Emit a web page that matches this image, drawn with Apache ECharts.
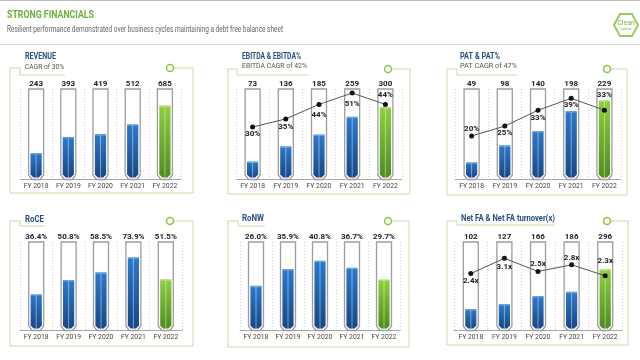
<!DOCTYPE html>
<html>
<head>
<meta charset="utf-8">
<script src="https://cdn.jsdelivr.net/npm/echarts@6/dist/echarts.min.js"></script>
<style>
html,body{margin:0;padding:0;background:#fff;}
#chart{width:640px;height:360px;}
</style>
</head>
<body>
<div id="chart"></div>
<script>
// ---------- DATA ----------
const categories = ['FY 2018', 'FY 2019', 'FY 2020', 'FY 2021', 'FY 2022'];
const revenue = [243, 393, 419, 512, 685];
const ebitda = [73, 136, 185, 259, 300];
const ebitdaMargin = [30, 35, 44, 51, 44];
const pat = [49, 98, 140, 198, 229];
const patMargin = [20, 25, 33, 39, 33];
const roce = [36.4, 50.8, 58.5, 73.9, 51.5];
const ronw = [26.0, 35.9, 40.8, 36.7, 29.7];
const netFA = [102, 127, 166, 186, 296];
const netFATurnover = [2.4, 3.1, 2.5, 2.8, 2.3];

// ---------- LAYOUT ----------
const FONT = 'Roboto';
const intFmt = v => String(v);
const pct1Fmt = v => v.toFixed(1) + '%';
const pctFmt = v => v + '%';
const xFmt = v => v.toFixed(1) + 'x';

const panels = [
  { grid: { left: 20, top: 89, width: 161, height: 90 }, values: revenue, max: 840, fmt: intFmt },
  { grid: { left: 236, top: 89, width: 166, height: 90 }, values: ebitda, max: 375, fmt: intFmt,
    line: ebitdaMargin, lMin: -2.1, lMax: 53.5, lFmt: pctFmt,
    pos: ['bottom', 'bottom', 'bottom', 'bottom', 'top'], dist: [0.5, 1.5, 4.5, 4.5, 2.5] },
  { grid: { left: 455, top: 89, width: 166, height: 90 }, values: pat, max: 262, fmt: intFmt,
    line: patMargin, lMin: -1.7, lMax: 43.7, lFmt: pctFmt,
    pos: ['top', 'bottom', 'bottom', 'bottom', 'top'], dist: [0, 0, 1.5, 0.5, 9] },
  { grid: { left: 20, top: 242, width: 162, height: 88 }, values: roce, max: 89.3, fmt: pct1Fmt },
  { grid: { left: 240, top: 242, width: 160, height: 88 }, values: ronw, max: 51.8, fmt: pct1Fmt },
  { grid: { left: 454, top: 242, width: 168, height: 88 }, values: netFA, max: 429, fmt: intFmt,
    line: netFATurnover, lMin: -0.17, lMax: 3.84, lFmt: xFmt,
    pos: ['bottom', 'bottom', 'top', 'top', 'top'], dist: [0.5, 2.5, 1, 0.5, 8.5] }
];

function makeRender(maxVal, fmt) {
  return function (params, api) {
    const i = api.value(0), v = api.value(1);
    const t = api.coord([i, maxVal]);
    const b = api.coord([i, 0]);
    const p = api.coord([i, v]);
    const cx = t[0], top = t[1], base = b[1], vy = p[1];
    const h = 7.5, hi = 5.6;
    const isLast = i === categories.length - 1;
    const grad = isLast
      ? new echarts.graphic.LinearGradient(0, 0, 0, 1, [{ offset: 0, color: '#8fcf3e' }, { offset: 1, color: '#4e8d1f' }])
      : new echarts.graphic.LinearGradient(0, 0, 0, 1, [{ offset: 0, color: '#2c7acc' }, { offset: 1, color: '#184786' }]);
    return {
      type: 'group',
      children: [
        { type: 'polygon', shape: { points: [[cx - h, top], [cx + h, top], [cx + h, base - 4], [cx + h - 3.5, base + 0.5], [cx - h + 3.5, base + 0.5], [cx - h, base - 4]] },
          style: { fill: '#fff', stroke: '#9d9d9d', lineWidth: 1.3 } },
        { type: 'polygon', shape: { points: [[cx - hi, vy], [cx + hi, vy], [cx + hi, base - 4.5], [cx + hi - 3, base - 1.5], [cx - hi + 3, base - 1.5], [cx - hi, base - 4.5]] },
          style: { fill: grad } },
        { type: 'rect', shape: { x: cx - hi, y: vy, width: hi * 2, height: 1.5 }, style: { fill: 'rgba(255,255,255,0.3)' } },
        { type: 'line', shape: { x1: cx, y1: vy + 1, x2: cx, y2: base - 2 }, style: { stroke: 'rgba(255,255,255,0.55)', lineWidth: 0.8 } },
        { type: 'text', x: cx, y: top - 1.5, style: { text: fmt(v), font: 'bold 8px ' + FONT, fill: '#222', align: 'center', verticalAlign: 'bottom' } }
      ]
    };
  };
}

const grid = [], xAxis = [], yAxis = [], series = [];
panels.forEach((pn, k) => {
  grid.push(pn.grid);
  xAxis.push({
    type: 'category', gridIndex: k, data: categories,
    axisLine: { lineStyle: { color: '#a8a8a8', width: 1 } },
    axisTick: { show: false },
    axisLabel: { interval: 0, hideOverlap: false, fontSize: 6.8, color: '#444', margin: 4, fontFamily: FONT },
    splitLine: { show: true, interval: 0, lineStyle: { color: '#cfcfcf', type: [1, 2], width: 1 } }
  });
  const yi = yAxis.length;
  yAxis.push({ type: 'value', gridIndex: k, min: 0, max: pn.max, show: false });
  series.push({
    type: 'custom', xAxisIndex: k, yAxisIndex: yi,
    data: pn.values.map((v, i) => [i, v]),
    encode: { x: 0, y: 1 },
    renderItem: makeRender(pn.max, pn.fmt),
    z: 2
  });
  if (pn.line) {
    const yi2 = yAxis.length;
    yAxis.push({ type: 'value', gridIndex: k, min: pn.lMin, max: pn.lMax, show: false });
    series.push({
      type: 'line', xAxisIndex: k, yAxisIndex: yi2, z: 5,
      data: pn.line.map((v, i) => ({ value: v, label: { position: pn.pos[i], distance: pn.dist[i] } })),
      lineStyle: { color: '#555', width: 1 },
      symbol: 'circle', symbolSize: 5,
      itemStyle: { color: '#111' },
      label: { show: true, formatter: p => pn.lFmt(p.value), fontSize: 8, fontWeight: 'bold', color: '#222', fontFamily: FONT }
    });
  }
});

// ---------- DECORATION ----------
const mctx = document.createElement('canvas').getContext('2d');
function fitText(text, x, y, font, color, targetW) {
  mctx.font = font;
  const w = mctx.measureText(text).width || targetW;
  return { type: 'text', x: x, y: y, scaleX: targetW / w, style: { text: text, font: font, fill: color, align: 'left', verticalAlign: 'middle' } };
}
const FR = '#c9dcae', CIRC = '#8dc63f';
function frame(l, r, t, b, boxX, ulY, ulEnd, cX) {
  return [
    { type: 'polyline', shape: { points: [[cX + 3.5, t], [r, t], [r, b], [l, b], [l, t], [boxX, t], [boxX, ulY], [ulEnd, ulY]] },
      style: { stroke: FR, lineWidth: 1, fill: null } },
    { type: 'circle', shape: { cx: cX, cy: t, r: 3.5 }, style: { fill: '#fff', stroke: CIRC, lineWidth: 1.5 } }
  ];
}
const NAVY = '#27507e', GREY = '#555';
const graphics = [
  { type: 'line', shape: { x1: 0, y1: 0.5, x2: 640, y2: 0.5 }, style: { stroke: '#bdbdbd', lineWidth: 1 } },
  { type: 'line', shape: { x1: 0, y1: 44.5, x2: 640, y2: 44.5 }, style: { stroke: '#d2ddc4', lineWidth: 1 } },
  fitText('STRONG FINANCIALS', 7, 15, 'bold 11.5px ' + FONT, '#6fad3c', 87),
  fitText('Resilient performance demonstrated over business cycles maintaining a debt free balance sheet', 7, 30, '9.5px ' + FONT, '#666', 276),
  { type: 'polygon', shape: { points: [[614, 25], [620, 14], [632, 14], [638, 25], [632, 36], [620, 36]] }, style: { fill: '#fff', stroke: '#9bcc5a', lineWidth: 2 } },
  { type: 'text', x: 626, y: 23, style: { text: 'Clean', font: '7px ' + FONT, fill: '#7bb342', align: 'center', verticalAlign: 'middle' } },
  { type: 'text', x: 626, y: 29.5, style: { text: 'Science', font: '3px ' + FONT, fill: '#7bb342', align: 'center', verticalAlign: 'middle' } },
  ...frame(10, 193, 68, 193, 20, 75, 65, 170),
  ...frame(228, 410, 69, 194, 237, 75, 308, 388),
  ...frame(447, 627, 69, 195, 457, 75, 517, 607),
  ...frame(10, 193, 221, 346, 20, 226, 45, 170),
  ...frame(228, 409, 221, 347, 238, 226, 265, 388),
  ...frame(447, 628, 221, 345, 457, 225, 555, 607),
  fitText('REVENUE', 25, 57, 'bold 8.5px ' + FONT, NAVY, 31),
  fitText('CAGR of 30%', 25, 67, '8px ' + FONT, GREY, 39),
  fitText('EBITDA & EBITDA%', 242, 57, 'bold 8.5px ' + FONT, NAVY, 59),
  fitText('EBITDA CAGR of 42%', 242, 66, '8px ' + FONT, GREY, 65),
  fitText('PAT & PAT%', 460, 57, 'bold 8.5px ' + FONT, NAVY, 40),
  fitText('PAT CAGR of 47%', 460, 66, '8px ' + FONT, GREY, 57),
  fitText('RoCE', 25, 220, 'bold 8.5px ' + FONT, NAVY, 19),
  fitText('RoNW', 242, 219, 'bold 8.5px ' + FONT, NAVY, 22),
  fitText('Net FA & Net FA turnover(x)', 461, 219, 'bold 8.5px ' + FONT, NAVY, 94)
];

const chart = echarts.init(document.getElementById('chart'), null, { renderer: 'canvas' });
chart.setOption({
  animation: false,
  backgroundColor: '#fff',
  textStyle: { fontFamily: FONT },
  grid: grid,
  xAxis: xAxis,
  yAxis: yAxis,
  series: series,
  graphic: { elements: graphics }
});
</script>
</body>
</html>
